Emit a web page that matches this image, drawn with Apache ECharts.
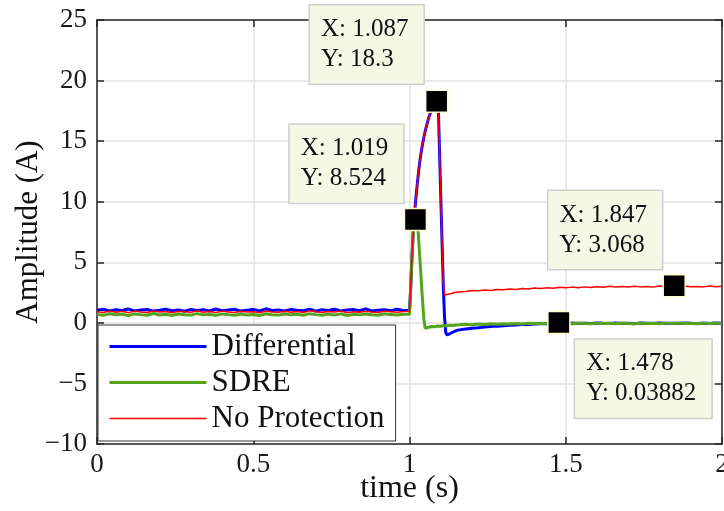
<!DOCTYPE html>
<html>
<head>
<meta charset="utf-8">
<script src="https://cdn.jsdelivr.net/npm/echarts@6/dist/echarts.min.js"></script>
<style>
html, body { margin: 0; padding: 0; background: #fff; }
#chart { width: 724px; height: 511px; }
</style>
</head>
<body>
<div id="chart"></div>
<script>
// time samples (s)
var tPre = [0, 0.02, 0.04, 0.06, 0.08, 0.1, 0.12, 0.14, 0.16, 0.18, 0.2, 0.22, 0.24, 0.26, 0.28, 0.3, 0.32, 0.34, 0.36, 0.38,
    0.4, 0.42, 0.44, 0.46, 0.48, 0.5, 0.52, 0.54, 0.56, 0.58, 0.6, 0.62, 0.64, 0.66, 0.68, 0.7, 0.72, 0.74, 0.76, 0.78,
    0.8, 0.82, 0.84, 0.86, 0.88, 0.9, 0.92, 0.94, 0.96, 0.98, 1.0];
var tPost = [1.16, 1.18, 1.2, 1.22, 1.24, 1.26, 1.28, 1.3, 1.32, 1.34, 1.36, 1.38, 1.4, 1.42, 1.44, 1.46, 1.48, 1.5, 1.52, 1.54,
    1.56, 1.58, 1.6, 1.62, 1.64, 1.66, 1.68, 1.7, 1.72, 1.74, 1.76, 1.78, 1.8, 1.82, 1.84, 1.86, 1.88, 1.9, 1.92, 1.94,
    1.96, 1.98, 2.0];

// Differential
var difPre = [1.05, 1.12, 0.98, 1.08, 1.02, 1.15, 0.99, 1.06, 1.1, 0.97, 1.04, 1.13, 1.0, 1.07, 0.96, 1.11, 1.03, 1.09, 0.98, 1.14,
    1.01, 1.06, 1.12, 0.97, 1.05, 1.1, 0.99, 1.16, 1.02, 1.07, 0.98, 1.11, 1.04, 1.0, 1.13, 0.97, 1.08, 1.03, 1.12, 0.99,
    1.06, 1.1, 1.01, 1.15, 0.98, 1.05, 1.09, 1.0, 1.12, 1.03, 1.05];
var difFaultT = [1.004, 1.008, 1.012, 1.016, 1.02, 1.025, 1.03, 1.035, 1.04, 1.045, 1.05, 1.055, 1.06, 1.065, 1.07, 1.075, 1.08, 1.087,
    1.092, 1.096, 1.1, 1.104, 1.108, 1.112, 1.116, 1.12, 1.125, 1.13, 1.136, 1.142, 1.148, 1.154];
var difFault = [3.0, 5.5, 7.6, 9.0, 10.2, 11.5, 12.7, 13.7, 14.5, 15.2, 15.8, 16.3, 16.8, 17.2, 17.5, 17.8, 18.1, 18.3,
    18.0, 14.2, 10.5, 6.8, 3.2, 0.5, -0.8, -1.0, -0.95, -0.88, -0.8, -0.72, -0.66, -0.6];
var difPost = [-0.55, -0.5, -0.44, -0.4, -0.35, -0.31, -0.27, -0.24, -0.2, -0.18, -0.14, -0.13, -0.1, -0.08, -0.06, -0.07, -0.04, -0.05, -0.02, -0.06,
    -0.03, -0.05, -0.01, -0.04, -0.06, -0.02, -0.05, -0.03, -0.07, -0.02, -0.04, -0.06, -0.01, -0.05, -0.03, -0.06, -0.02, -0.04, -0.05, -0.03,
    -0.06, -0.02, -0.04];

// SDRE
var sdrePre = [0.7, 0.62, 0.75, 0.66, 0.72, 0.6, 0.74, 0.68, 0.63, 0.77, 0.65, 0.71, 0.61, 0.73, 0.67, 0.64, 0.76, 0.66, 0.7, 0.62,
    0.74, 0.68, 0.63, 0.72, 0.65, 0.69, 0.6, 0.75, 0.67, 0.64, 0.73, 0.66, 0.71, 0.62, 0.76, 0.68, 0.63, 0.72, 0.65, 0.74,
    0.61, 0.7, 0.66, 0.73, 0.67, 0.63, 0.75, 0.68, 0.64, 0.71, 0.72];
var sdreFaultT = [1.004, 1.008, 1.012, 1.016, 1.019, 1.024, 1.028, 1.034, 1.04, 1.046, 1.05, 1.056, 1.062, 1.07, 1.08, 1.09, 1.1, 1.11,
    1.12, 1.13, 1.14, 1.15];
var sdreFault = [3.0, 5.5, 7.4, 8.3, 8.524, 8.3, 7.4, 5.0, 2.5, 0.3, -0.45, -0.42, -0.36, -0.3, -0.33, -0.26, -0.28, -0.22,
    -0.25, -0.19, -0.22, -0.17];
var sdrePost = [-0.16, -0.12, -0.15, -0.1, -0.13, -0.08, -0.11, -0.07, -0.1, -0.05, -0.09, -0.04, -0.07, -0.03, -0.08, -0.02, -0.06, -0.03, -0.07, -0.01,
    -0.05, -0.08, -0.02, -0.06, -0.03, -0.07, -0.01, -0.05, -0.08, -0.02, -0.06, -0.03, -0.07, -0.01, -0.05, -0.02, -0.06, -0.03, -0.07, -0.02,
    -0.05, -0.03, -0.04];

// No Protection
var noPre = [0.92, 0.85, 0.98, 0.88, 0.95, 0.84, 0.97, 0.9, 0.86, 0.99, 0.89, 0.93, 0.83, 0.96, 0.91, 0.87, 1.0, 0.88, 0.94, 0.85,
    0.97, 0.9, 0.86, 0.95, 0.89, 0.92, 0.84, 0.98, 0.9, 0.87, 0.96, 0.88, 0.93, 0.85, 0.99, 0.91, 0.86, 0.94, 0.89, 0.97,
    0.84, 0.92, 0.88, 0.95, 0.9, 0.86, 0.98, 0.91, 0.87, 0.94, 0.95];
var noFaultT = [1.004, 1.008, 1.012, 1.016, 1.02, 1.025, 1.03, 1.035, 1.04, 1.045, 1.05, 1.055, 1.06, 1.065, 1.07, 1.075, 1.08, 1.087,
    1.092, 1.096, 1.1, 1.104, 1.108, 1.112, 1.116, 1.12, 1.126, 1.132, 1.138, 1.144, 1.15, 1.156];
var noFault = [3.0, 5.5, 7.6, 9.0, 10.2, 11.5, 12.7, 13.7, 14.5, 15.2, 15.8, 16.3, 16.8, 17.2, 17.5, 17.8, 18.1, 18.3,
    18.0, 14.2, 10.5, 6.8, 3.4, 2.3, 2.2, 2.35, 2.45, 2.4, 2.55, 2.5, 2.6, 2.55];
var noPost = [2.62, 2.58, 2.68, 2.65, 2.72, 2.68, 2.76, 2.73, 2.8, 2.76, 2.84, 2.8, 2.87, 2.83, 2.9, 2.86, 2.93, 2.89, 2.95, 2.9,
    2.97, 2.92, 2.99, 2.94, 3.02, 2.95, 3.0, 2.96, 3.03, 2.97, 3.01, 2.95, 3.04, 2.98, 3.02, 2.96, 3.05, 2.99, 3.01, 2.97,
    3.04, 2.98, 3.02];

// data tips
var tipX = [1.087, 1.019, 1.847, 1.478];
var tipY = [18.3, 8.524, 3.068, 0.03882];
var tipLabelPos = [[-115, -84], [-114, -83], [-114, -83], [28, 29]];

var seriesNames = ['Differential', 'SDRE', 'No Protection'];
var seriesColors = ['#0000ff', '#55a51c', '#ff0000'];
var seriesWidths = [3, 3, 1.5];

function pairs(t, v) {
    var out = [];
    for (var i = 0; i < t.length; i++) out.push([t[i], v[i]]);
    return out;
}

var serif = "'Liberation Serif', 'Times New Roman', serif";
var frame = '#262626';

var dom = document.getElementById('chart');
var myChart = echarts.init(dom);

var tipData = [];
for (var i = 0; i < tipX.length; i++) {
    tipData.push({
        value: [tipX[i], tipY[i]],
        label: { position: tipLabelPos[i] }
    });
}

var legendData = seriesNames.map(function (n, i) {
    return { name: n, lineStyle: { color: seriesColors[i], width: seriesWidths[i] } };
});

var axisFrame = {
    axisLine: { show: true, onZero: false, lineStyle: { color: frame, width: 1.5 } },
    axisTick: { show: true, inside: true, length: 7, lineStyle: { color: frame, width: 1.5 } }
};

option = {
    animation: false,
    backgroundColor: '#fff',
    grid: { left: 97, right: 2, top: 20, bottom: 67, outerBoundsMode: 'none', containLabel: false },
    legend: {
        data: legendData,
        orient: 'vertical',
        left: 98,
        top: 325,
        padding: [6, 11, 7, 10],
        itemGap: 5,
        itemWidth: 97,
        itemHeight: 14,
        borderColor: '#333',
        borderWidth: 1,
        borderRadius: 0,
        backgroundColor: '#fff',
        itemStyle: { color: 'transparent', borderWidth: 0, opacity: 0 },
        textStyle: { fontFamily: serif, fontSize: 31, lineHeight: 31, color: '#111' }
    },
    xAxis: [
        Object.assign({
            type: 'value', min: 0, max: 2, interval: 0.5, position: 'bottom',
            name: 'time (s)', nameLocation: 'middle', nameGap: 29, nameMoveOverlap: false,
            nameTextStyle: { fontFamily: serif, fontSize: 32, color: '#111' },
            axisLabel: { fontFamily: serif, fontSize: 27, color: '#1a1a1a', margin: 7 },
            splitLine: { show: true, lineStyle: { color: '#e2e2e2', width: 1.5 } }
        }, axisFrame),
        Object.assign({
            type: 'value', min: 0, max: 2, interval: 0.5, position: 'top',
            axisLabel: { show: false }, splitLine: { show: false }
        }, axisFrame)
    ],
    yAxis: [
        Object.assign({
            type: 'value', min: -10, max: 25, interval: 5, position: 'left',
            name: 'Amplitude (A)', nameLocation: 'middle', nameGap: 53, nameMoveOverlap: false,
            nameTextStyle: { fontFamily: serif, fontSize: 31, color: '#111' },
            axisLabel: {
                fontFamily: serif, fontSize: 27, color: '#1a1a1a', margin: 10,
                formatter: function (v) { return String(v).replace('-', '\u2212'); }
            },
            splitLine: { show: true, lineStyle: { color: '#e2e2e2', width: 1.5 } }
        }, axisFrame),
        Object.assign({
            type: 'value', min: -10, max: 25, interval: 5, position: 'right',
            axisLabel: { show: false }, splitLine: { show: false }
        }, axisFrame)
    ],
    series: [
        {
            name: 'Differential', type: 'line', symbol: 'none', showSymbol: false,
            lineStyle: { color: seriesColors[0], width: seriesWidths[0] }, itemStyle: { color: seriesColors[0] },
            data: pairs(tPre, difPre).concat(pairs(difFaultT, difFault), pairs(tPost, difPost))
        },
        {
            name: 'SDRE', type: 'line', symbol: 'none', showSymbol: false,
            lineStyle: { color: seriesColors[1], width: seriesWidths[1] }, itemStyle: { color: seriesColors[1] },
            data: pairs(tPre, sdrePre).concat(pairs(sdreFaultT, sdreFault), pairs(tPost, sdrePost))
        },
        {
            name: 'No Protection', type: 'line', symbol: 'none', showSymbol: false,
            lineStyle: { color: seriesColors[2], width: seriesWidths[2] }, itemStyle: { color: seriesColors[2] },
            data: pairs(tPre, noPre).concat(pairs(noFaultT, noFault), pairs(tPost, noPost))
        },
        {
            name: 'tips', type: 'scatter', symbol: 'rect', symbolSize: 22, z: 10,
            itemStyle: { color: '#000', borderColor: '#fffbd0', borderWidth: 1.5, opacity: 1 },
            label: {
                show: true,
                align: 'left',
                verticalAlign: 'top',
                fontFamily: serif, fontSize: 25, lineHeight: 30, color: '#111',
                backgroundColor: '#f6f8e6',
                borderColor: '#cfcfcf', borderWidth: 1.5,
                padding: [9, 15, 9, 11],
                formatter: function (p) { return 'X: ' + p.value[0] + '\nY: ' + p.value[1]; }
            },
            data: tipData
        }
    ]
};
if (option && typeof option === "object") {
    myChart.setOption(option, true);
}
</script>
</body>
</html>
